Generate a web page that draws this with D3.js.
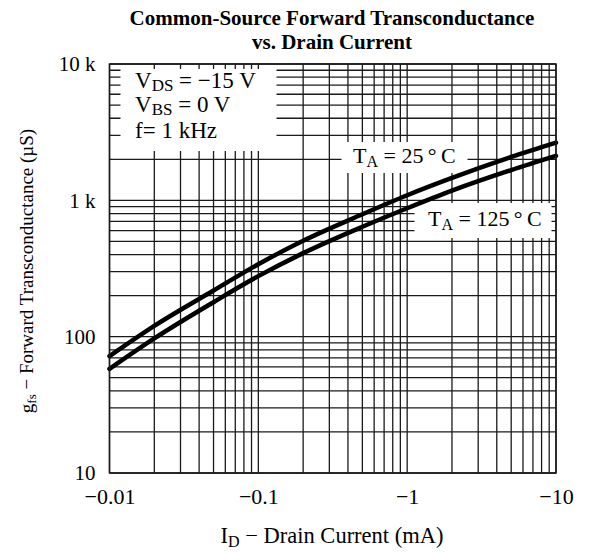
<!DOCTYPE html>
<html>
<head>
<meta charset="utf-8">
<script src="https://cdn.jsdelivr.net/npm/d3@7/dist/d3.min.js"></script>
<style>
  body { margin: 0; background: #fff; }
  text { font-family: "Liberation Serif", "DejaVu Serif", serif; fill: #000; }
</style>
</head>
<body>
<div id="chart"></div>
<script>
// drain current magnitude (mA) and gfs (uS)
var drainCurrent = [0.01, 0.02, 0.05, 0.1, 0.2, 0.5, 1, 2, 5, 10];
var gfs25 = [72, 120, 218, 340, 505, 790, 1090, 1460, 2080, 2650];
var gfs125 = [58, 97, 179, 278, 410, 640, 875, 1178, 1667, 2120];

var xTicks = [0.01, 0.1, 1, 10];
var xTickLabels = ["\u22120.01", "\u22120.1", "\u22121", "\u221210"];
var yTicks = [10, 100, 1000, 10000];
var yTickLabels = ["10", "100", "1 k", "10 k"];

var margin = {top: 64, right: 43, bottom: 80, left: 109.5}
  , width = 599 - margin.left - margin.right
  , height = 553 - margin.top - margin.bottom;

var x = d3.scaleLog().domain([0.01, 10]).range([0, width]);
var y = d3.scaleLog().domain([10, 10000]).range([height, 0]);

var svg = d3.select('#chart').append('svg')
  .attr('width', 599)
  .attr('height', 553);

var main = svg.append('g')
  .attr('transform', 'translate(' + margin.left + ',' + margin.top + ')');

// grid values 1..9 per decade
var xGrid = [], yGrid = [];
[0.01, 0.1, 1].forEach(function(d) { for (var k = 1; k < 10; k++) xGrid.push(d * k); });
xGrid.push(10);
[10, 100, 1000].forEach(function(d) { for (var k = 1; k < 10; k++) yGrid.push(d * k); });
yGrid.push(10000);

var grid = main.append('g').attr('stroke', '#1a1a1a').attr('stroke-width', 1.3);
grid.selectAll('.vx').data(xGrid).enter().append('line')
  .attr('x1', function(d) { return x(d); }).attr('x2', function(d) { return x(d); })
  .attr('y1', 0).attr('y2', height);
grid.selectAll('.hy').data(yGrid).enter().append('line')
  .attr('y1', function(d) { return y(d); }).attr('y2', function(d) { return y(d); })
  .attr('x1', 0).attr('x2', width);

// white boxes behind the annotations, grid peeks out as short ticks
var boxes = main.append('g').attr('fill', '#fff');
boxes.append('rect').attr('x', 11).attr('y', 5).attr('width', 156).attr('height', 82);
boxes.append('rect').attr('x', 232).attr('y', 78).attr('width', 126).attr('height', 31);
boxes.append('rect').attr('x', 305).attr('y', 139).attr('width', 137).attr('height', 35);

// curves
var line = d3.line()
  .x(function(d) { return x(d[0]); })
  .y(function(d) { return y(d[1]); })
  .curve(d3.curveMonotoneX);

[gfs25, gfs125].forEach(function(series) {
  main.append('path')
    .datum(drainCurrent.map(function(d, i) { return [d, series[i]]; }))
    .attr('fill', 'none')
    .attr('stroke', '#000')
    .attr('stroke-width', 4.5)
    .attr('stroke-linecap', 'round')
    .attr('d', line);
});

// frame
main.append('rect')
  .attr('width', width).attr('height', height)
  .attr('fill', 'none').attr('stroke', '#1a1a1a').attr('stroke-width', 1.5);

// axes, labels only
var xAxis = d3.axisBottom(x).tickValues(xTicks).tickSize(0).tickPadding(15)
  .tickFormat(function(d, i) { return xTickLabels[i]; });
var gx = main.append('g').attr('transform', 'translate(0,' + height + ')').call(xAxis);
gx.select('.domain').remove();
gx.selectAll('text').style('font-family', '"Liberation Serif", serif').style('font-size', '22px').attr('fill', '#000');

var yAxis = d3.axisLeft(y).tickValues(yTicks).tickSize(0).tickPadding(14)
  .tickFormat(function(d, i) { return yTickLabels[i]; });
var gy = main.append('g').call(yAxis);
gy.select('.domain').remove();
gy.selectAll('text').style('font-family', '"Liberation Serif", serif').style('font-size', '21px').attr('fill', '#000');

// title
svg.append('text').attr('x', 332).attr('y', 25).attr('text-anchor', 'middle')
  .style('font-size', '21px').style('font-weight', 'bold')
  .text('Common-Source Forward Transconductance');
svg.append('text').attr('x', 332).attr('y', 49).attr('text-anchor', 'middle')
  .style('font-size', '21px').style('font-weight', 'bold')
  .text('vs. Drain Current');

// subscripted text helper
function subText(parent, px, py, parts, size, anchor, drop) {
  drop = drop || 4;
  var t = parent.append('text').attr('x', px).attr('y', py)
    .attr('text-anchor', anchor || 'start').style('font-size', size + 'px');
  parts.forEach(function(p) {
    var s = t.append('tspan').text(p[0]);
    if (p[1] === 'sub') s.style('font-size', Math.round(size * 0.72) + 'px').attr('dy', drop);
    if (p[1] === 'up') s.attr('dy', -drop);
  });
  return t;
}

// conditions
subText(svg, 135, 88, [['V'], ['DS', 'sub'], [' = \u221215 V', 'up']], 23, 'start', 3);
subText(svg, 135, 112, [['V'], ['BS', 'sub'], [' = 0 V', 'up']], 23, 'start', 3);
subText(svg, 135, 138, [['f= 1 kHz']], 23);

// temperature labels
subText(svg, 353, 163, [['T'], ['A', 'sub'], [' = 25\u2009\u00b0\u2009C', 'up']], 22);
subText(svg, 428, 226, [['T'], ['A', 'sub'], [' = 125\u2009\u00b0\u2009C', 'up']], 22);

// axis titles
subText(svg, 332, 543, [['I'], ['D', 'sub'], [' \u2212 Drain Current (mA)', 'up']], 22.5, 'middle');
var yl = svg.append('text').attr('text-anchor', 'middle')
  .attr('transform', 'translate(33,271)rotate(-90)').style('font-size', '19px');
yl.append('tspan').text('g');
yl.append('tspan').text('fs').style('font-size', '13px').attr('dy', 3);
yl.append('tspan').text(' \u2212 Forward Transconductance (\u00b5S)').attr('dy', -3);
</script>
</body>
</html>
